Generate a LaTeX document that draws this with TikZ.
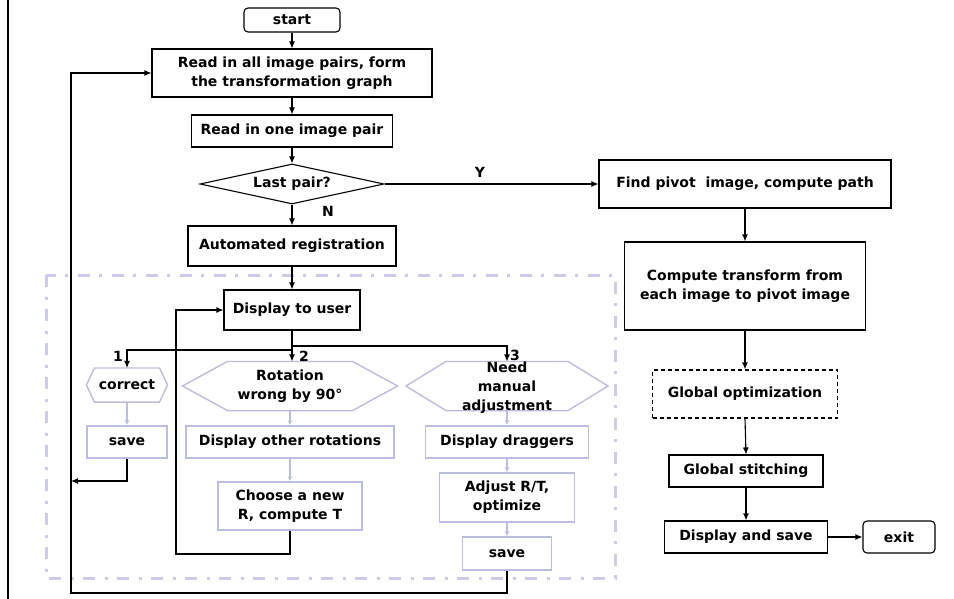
\documentclass[tikz,border=0pt]{standalone}
\usepackage{fontspec}
\setmainfont{DejaVu Sans}
\usetikzlibrary{shapes.geometric,arrows.meta}
\definecolor{lav}{RGB}{204,204,234}
\definecolor{lavd}{RGB}{188,188,222}
\begin{document}
\begin{tikzpicture}[x=1pt,y=-1pt,
  blk/.style={draw=black, line width=1.1pt, fill=white, text=black,
    font=\bfseries\fontsize{14}{19}\selectfont, align=center, inner sep=0pt},
  lavbox/.style={blk, draw=lavd, line width=1.4pt},
  hexn/.style={blk, draw=none, fill=none},
  hexline/.style={draw=lavd, line width=1.4pt, fill=white},
  arr/.style={-{Latex[length=7pt,width=6pt]}, line width=1.1pt},
  larr/.style={-{Latex[length=5pt,width=5pt]}, draw=lavd, line width=1.1pt},
  lbl/.style={font=\bfseries\fontsize{14}{17}\selectfont, inner sep=0pt}]
\useasboundingbox (0,0) rectangle (954,599);
\fill[white] (0,0) rectangle (954,599);
% left border line
\draw[line width=2pt] (8,0) -- (8,599);
% dash-dot group box
\draw[lav, line width=3pt, dash pattern=on 12pt off 10pt on 3pt off 9pt] (46,275) rectangle (615,578);

% main column
\node[blk, rounded corners=4pt, minimum width=96, minimum height=24] (start) at (292,20) {start};
\node[blk, minimum width=280, minimum height=48] (rall) at (292,73) {Read in all image pairs, form\\the transformation graph};
\node[blk, minimum width=201, minimum height=32] (rone) at (292,131) {Read in one image pair};
\node[blk, diamond, aspect=4.6, minimum width=184, minimum height=40] (dia) at (292,184) {Last pair?};
\node[blk, minimum width=208, minimum height=40] (auto) at (292,246) {Automated registration};
\node[blk, minimum width=136, minimum height=40] (disp) at (292,310) {Display to user};

% hexagons
\node[hexn, minimum width=80, minimum height=33] (cor) at (127,385) {};
\draw[hexline] (cor.west) -- ([xshift=8]cor.north west) -- ([xshift=-8]cor.north east) -- (cor.east) -- ([xshift=-8]cor.south east) -- ([xshift=8]cor.south west) -- cycle;
\node[lbl] (cort) at (cor) {correct};

\node[hexn, minimum width=214, minimum height=48] (rot) at (290,386) {};
\draw[hexline] (rot.west) -- ([xshift=45]rot.north west) -- ([xshift=-45]rot.north east) -- (rot.east) -- ([xshift=-45]rot.south east) -- ([xshift=45]rot.south west) -- cycle;
\node[blk, draw=none, fill=none] (rott) at (rot) {Rotation\\wrong by 90°};

\node[hexn, minimum width=201, minimum height=48] (need) at (507,386) {};
\draw[hexline] (need.west) -- ([xshift=40]need.north west) -- ([xshift=-40]need.north east) -- (need.east) -- ([xshift=-40]need.south east) -- ([xshift=40]need.south west) -- cycle;
\node[blk, draw=none, fill=none] (needt) at (507,388) {Need\\manual\\adjustment};

% branch boxes
\node[lavbox, minimum width=80, minimum height=32] (sv1) at (127,442) {save};
\node[lavbox, minimum width=208, minimum height=32] (dor) at (290,442) {Display other rotations};
\node[lavbox, minimum width=144, minimum height=48] (ch) at (290,506) {Choose a new\\R, compute T};
\node[lavbox, minimum width=163, minimum height=32] (dd) at (507,442) {Display draggers};
\node[lavbox, minimum width=135, minimum height=49] (adj) at (507,497.5) {Adjust R/T,\\optimize};
\node[lavbox, minimum width=89, minimum height=33] (sv3) at (507,553.5) {save};

% right column
\node[blk, minimum width=292, minimum height=48] (find) at (745,184) {Find pivot \ image, compute path};
\node[blk, minimum width=241, minimum height=88] (comp) at (745,286) {Compute transform from\\each image to pivot image};
\node[blk, dashed, dash pattern=on 4pt off 3pt, minimum width=185, minimum height=48] (gopt) at (745,394) {Global optimization};
\node[blk, minimum width=154, minimum height=32] (gst) at (746,471) {Global stitching};
\node[blk, minimum width=163, minimum height=32] (dsv) at (746,537) {Display and save};
\node[blk, rounded corners=4pt, minimum width=72, minimum height=32] (exit) at (899,537) {exit};

% labels
\node[lbl] (lN) at (328,211) {N};
\node[lbl] (lY) at (480,172) {Y};
\node[lbl] (l1) at (118,356) {1};
\node[lbl] (l2) at (304,356) {2};
\node[lbl] (l3) at (515,355) {3};

% connectors main
\draw[arr] (start.south) -- (rall.north);
\draw[arr] (rall.south) -- (rone.north);
\draw[arr] (rone.south) -- (dia.north);
\draw[arr] (dia.south) -- (auto.north);
\draw[arr] (dia.east) -- (find.west);
\draw[arr] (auto.south) -- (disp.north);
\coordinate (b1) at (292,350);
\coordinate (b3) at (292,346);
\draw[arr] (disp.south) -- (disp.south |- rot.north);
\draw[arr] (b1) -| (cor.north);
\draw[arr] (b3) -| (need.north);

% lavender connectors
\draw[larr] (cor.south) -- (sv1.north);
\draw[larr] (rot.south) -- (dor.north);
\draw[larr] (dor.south) -- (ch.north);
\draw[larr] (need.south) -- (dd.north);
\draw[larr] (dd.south) -- (adj.north);
\draw[larr] (adj.south) -- (sv3.north);

% loops
\coordinate (j1) at (71,481);
\draw[arr] (sv1.south) |- (j1);
\coordinate (j2) at (176,554);
\draw[arr] (ch.south) |- (j2) |- (disp.west);
\coordinate (j3) at (71,593);
\draw[arr] (sv3.south) |- (j3) |- (rall.west);

% right chain
\draw[arr] (find.south) -- (comp.north);
\draw[arr] (comp.south) -- (gopt.north);
\draw[arr] (gopt.south) -- (gst.north);
\draw[arr] (gst.south) -- (dsv.north);
\draw[arr] (dsv.east) -- (exit.west);
\end{tikzpicture}
\end{document}
